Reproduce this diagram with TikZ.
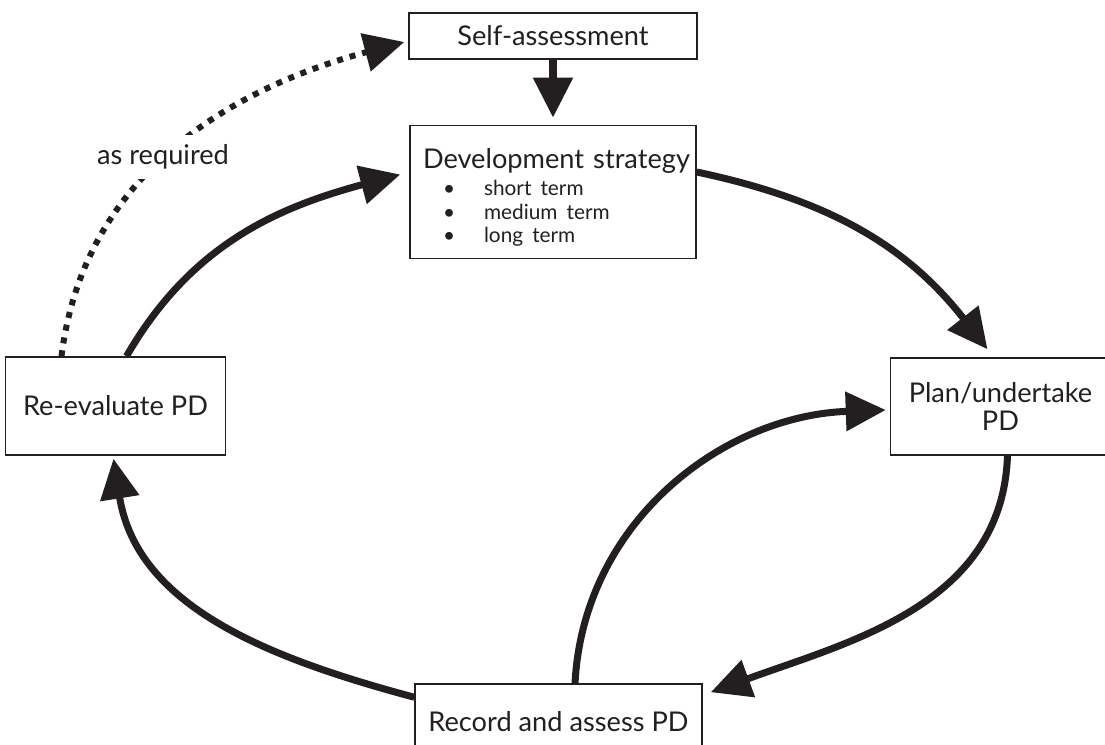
\documentclass[tikz,border=0pt]{standalone}
\usepackage{fontspec}
\setmainfont{Lato}
\usetikzlibrary{arrows.meta, positioning}
\definecolor{ink}{HTML}{231F20}
\newcommand{\itemsize}{\fontsize{10.4}{11.75}\selectfont}
\tikzset{
    block/.style={rectangle, draw=ink, line width=0.75pt, inner sep=0pt, text centered, text=ink},
    line/.style={draw=ink, line width=3.5pt, -{Triangle[length=20pt, width=19pt]}},
    dotline/.style={draw=ink, line width=3pt, dash pattern=on 3pt off 3.5pt, -{Triangle[length=20pt, width=19pt]}},
    every node/.style={font=\fontsize{13.6}{16}\selectfont}
}

\begin{document}
\begin{tikzpicture}

    \useasboundingbox (0,0) rectangle (552.5pt,372.5pt);
    \clip (0,0) rectangle (552.5pt,372.5pt);

    % Top boxes
    \node [block, minimum width=144pt, minimum height=23pt] (selfassess) at (276.5pt,354.5pt) {Self-assessment};
    \node [block, below=32.5pt of selfassess, text width=143pt, minimum height=66.5pt, align=left] (devstrat) {%
        \rule{0pt}{17.5pt}\hspace*{6.5pt}Development strategy\\[1.8pt]
        {\itemsize\begin{tabular}{@{\hspace{16.5pt}}l@{\hspace{14.5pt}}l@{}}
            \textbullet & short term\\
            \textbullet & medium term\\
            \textbullet & long term
        \end{tabular}}};

    % Sides and bottom
    \node [block, below left=48.5pt and 91.5pt of devstrat, minimum width=110pt, minimum height=49pt] (reeval) {Re-evaluate PD};
    \node [block, below right=49pt and 96.5pt of devstrat, minimum width=110pt, minimum height=48.5pt, align=center] (plan) {Plan/undertake\\[-2pt]PD};
    \node [block, below=212pt of devstrat, xshift=2.75pt, minimum width=143.5pt, minimum height=38pt] (record) {Record and assess PD};

    % Main cycle
    \draw [line, line width=4pt, shorten >=3.5pt] (selfassess) -- (devstrat);
    \draw [line] ([yshift=10pt]devstrat.east) to [out=-12, in=128] ([shift={(-6.5pt,4pt)}]plan.north);
    \draw [line] ([xshift=3.5pt]plan.south) to [out=-92, in=20] ([shift={(4pt,-4.5pt)}]record.north east);
    \draw [line] ([xshift=8.25pt]record.north) to [out=87, in=182] ([shift={(-2pt,-1.75pt)}]plan.west);
    \draw [line] ([yshift=-7pt]record.north west) to [out=165, in=-81] ([shift={(-1pt,-1.5pt)}]reeval.south);
    \draw [line] ([xshift=5.5pt]reeval.north) to [out=60, in=195] ([shift={(-4.5pt,8.75pt)}]devstrat.west);

    % Loop back to self-assessment
    \draw [dotline] ([xshift=-27pt]reeval.north) to [out=83, in=195] ([shift={(-2pt,-3pt)}]selfassess.west);
    \node [fill=white, inner sep=5pt, text=ink] (asreq) at (81.5pt,294pt) {as required};

\end{tikzpicture}
\end{document}
